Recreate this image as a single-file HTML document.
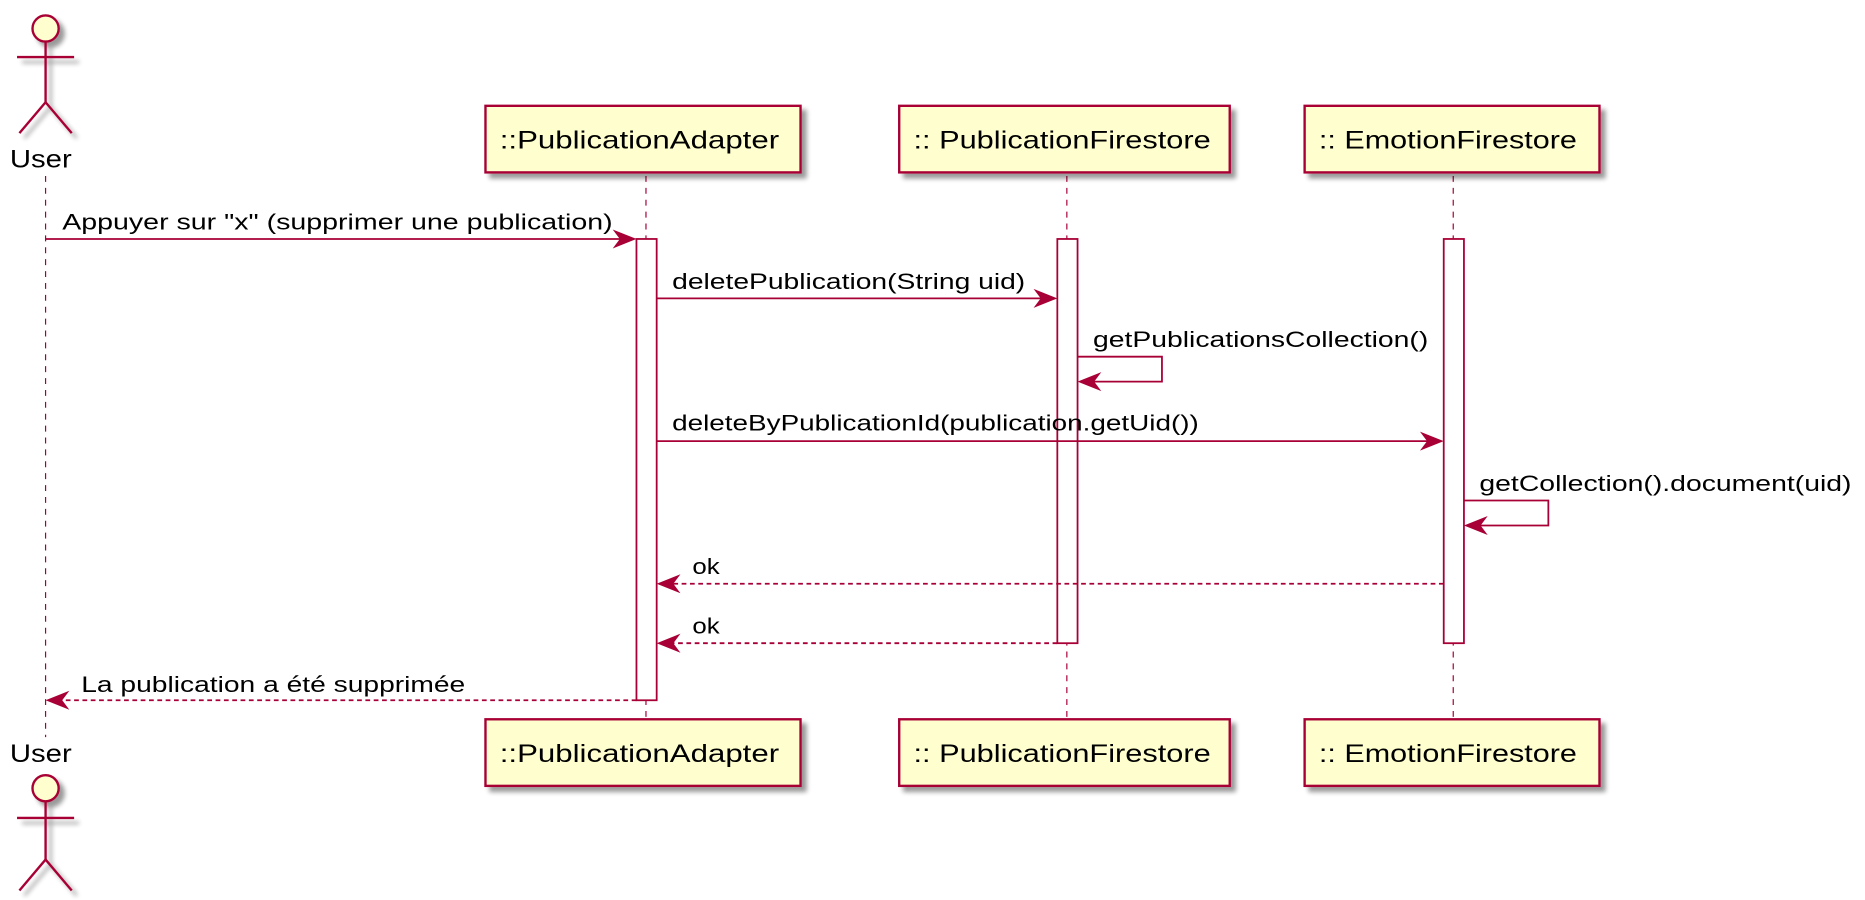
<!DOCTYPE html>
<html><head><meta charset="utf-8"><style>html,body{margin:0;padding:0;background:#fff}svg{display:block}</style></head>
<body>
<svg width="1865" height="900" viewBox="0 0 1568 757" xmlns="http://www.w3.org/2000/svg" font-family="'Liberation Sans', sans-serif" font-size="19">
<defs>
<filter id="sh" x="-10%" y="-10%" width="130%" height="140%"><feGaussianBlur in="SourceAlpha" stdDeviation="2"/><feOffset dx="4" dy="4"/><feComponentTransfer><feFuncA type="linear" slope="0.4"/></feComponentTransfer><feMerge><feMergeNode/><feMergeNode in="SourceGraphic"/></feMerge></filter>
</defs>
<g stroke="#A80036" stroke-width="1" stroke-dasharray="5,5">
<line x1="38" y1="148" x2="38" y2="620"/>
<line x1="543" y1="148" x2="543" y2="604"/>
<line x1="897" y1="148" x2="897" y2="604"/>
<line x1="1222" y1="148" x2="1222" y2="604"/>
</g>
<g stroke="#A80036" stroke-width="2" fill="none" filter="url(#sh)">
<circle cx="38" cy="24" r="11" fill="#FEFECE"/>
<line x1="38" y1="35" x2="38" y2="86"/><line x1="14" y1="48" x2="62" y2="48"/>
<line x1="38" y1="86" x2="16" y2="112"/><line x1="38" y1="86" x2="60" y2="112"/>
<circle cx="38" cy="663" r="11" fill="#FEFECE"/>
<line x1="38" y1="674" x2="38" y2="723"/><line x1="14" y1="688" x2="62" y2="688"/>
<line x1="38" y1="723" x2="16" y2="749"/><line x1="38" y1="723" x2="60" y2="749"/>
</g>
<g font-size="21" lengthAdjust="spacingAndGlyphs">
<text x="8" y="141" textLength="52" lengthAdjust="spacingAndGlyphs">User</text>
<text x="8" y="641" textLength="52" lengthAdjust="spacingAndGlyphs">User</text>
</g>
<g fill="#FEFECE" stroke="#A80036" stroke-width="2" filter="url(#sh)">
<rect x="408" y="89" width="265" height="56"/><rect x="756" y="89" width="278" height="56"/><rect x="1097" y="89" width="248" height="56"/>
<rect x="408" y="605" width="265" height="56"/><rect x="756" y="605" width="278" height="56"/><rect x="1097" y="605" width="248" height="56"/>
</g>
<g font-size="21">
<text x="420" y="125" textLength="235" lengthAdjust="spacingAndGlyphs">::PublicationAdapter</text>
<text x="768" y="125" textLength="250" lengthAdjust="spacingAndGlyphs">:: PublicationFirestore</text>
<text x="1109" y="125" textLength="217" lengthAdjust="spacingAndGlyphs">:: EmotionFirestore</text>
<text x="420" y="641" textLength="235" lengthAdjust="spacingAndGlyphs">::PublicationAdapter</text>
<text x="768" y="641" textLength="250" lengthAdjust="spacingAndGlyphs">:: PublicationFirestore</text>
<text x="1109" y="641" textLength="217" lengthAdjust="spacingAndGlyphs">:: EmotionFirestore</text>
</g>
<g fill="#fff" stroke="#A80036" stroke-width="1.5">
<rect x="535" y="201" width="17" height="388"/><rect x="889" y="201" width="17" height="340"/><rect x="1214" y="201" width="17" height="340"/>
</g>
<g stroke="#A80036" stroke-width="1.5" fill="none">
<line x1="38" y1="201" x2="533" y2="201"/>
<line x1="552" y1="251" x2="887" y2="251"/>
<polyline points="906,300 977,300 977,321 908,321"/>
<line x1="552" y1="371" x2="1212" y2="371"/>
<polyline points="1231,421 1302,421 1302,442 1233,442"/>
<g stroke-dasharray="4,3"><line x1="1214" y1="491" x2="554" y2="491"/><line x1="889" y1="541" x2="554" y2="541"/><line x1="535" y1="589" x2="40" y2="589"/></g>
</g>
<g fill="#A80036">
<polygon points="535,201 515,193 521,201 515,209"/>
<polygon points="889,251 869,243 875,251 869,259"/>
<polygon points="906,321 926,313 920,321 926,329"/>
<polygon points="1214,371 1194,363 1200,371 1194,379"/>
<polygon points="1231,442 1251,434 1245,442 1251,450"/>
<polygon points="552,491 572,483 566,491 572,499"/>
<polygon points="552,541 572,533 566,541 572,549"/>
<polygon points="38,589 58,581 52,589 58,597"/>
</g>
<text x="52" y="193" textLength="463" lengthAdjust="spacingAndGlyphs">Appuyer sur "x" (supprimer une publication)</text>
<text x="565" y="243" textLength="297" lengthAdjust="spacingAndGlyphs">deletePublication(String uid)</text>
<text x="919" y="292" textLength="282" lengthAdjust="spacingAndGlyphs">getPublicationsCollection()</text>
<text x="565" y="362" textLength="443" lengthAdjust="spacingAndGlyphs">deleteByPublicationId(publication.getUid())</text>
<text x="1244" y="413" textLength="313" lengthAdjust="spacingAndGlyphs">getCollection().document(uid)</text>
<text x="582" y="483" textLength="23" lengthAdjust="spacingAndGlyphs">ok</text>
<text x="582" y="533" textLength="23" lengthAdjust="spacingAndGlyphs">ok</text>
<text x="68" y="582" textLength="323" lengthAdjust="spacingAndGlyphs">La publication a été supprimée</text>
</svg>
</body></html>
